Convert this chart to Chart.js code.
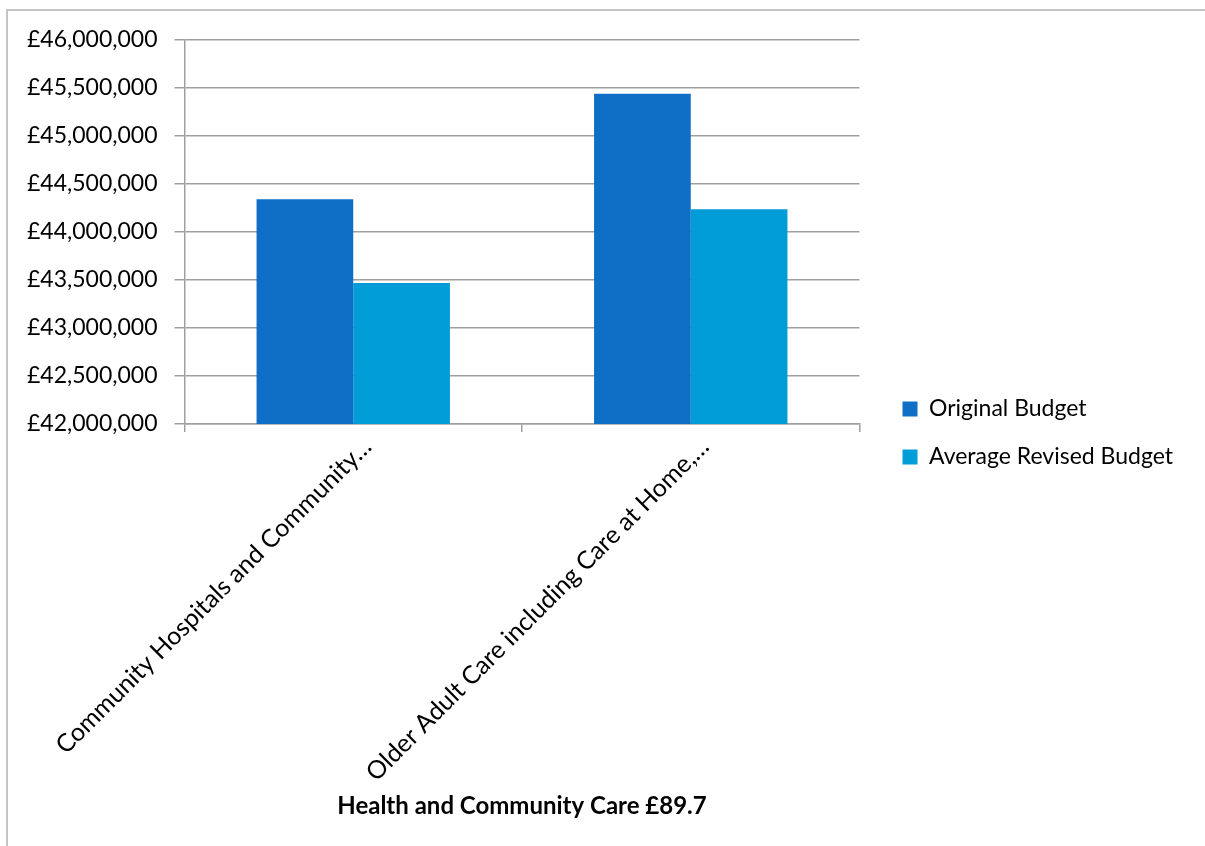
<!DOCTYPE html>
<html>
<head>
<meta charset="utf-8">
<title>Health and Community Care</title>
<script src="https://cdn.jsdelivr.net/npm/chart.js@4/dist/chart.umd.min.js"></script>
<style>
  html, body { margin: 0; padding: 0; background: #fff; overflow: hidden; }
  #wrap { position: relative; width: 1205px; height: 846px; }
  #frame {
    position: absolute; left: 6px; top: 9px; width: 1300px; height: 900px;
    border: 2px solid #c4c4c4; box-sizing: border-box;
  }
  #budget { position: absolute; left: 0; top: 0; }
</style>
</head>
<body>
<div id="wrap">
  <div id="frame"></div>
  <canvas id="budget" width="1205" height="846"></canvas>
</div>
<script>
const categories = [
  "Community Hospitals and Community…",
  "Older Adult Care including Care at Home,…"
];
const originalBudget = [44341000, 45440000];
const revisedBudget = [43470000, 44237000];
const yMin = 42000000;
const yMax = 46000000;
const yStep = 500000;

const font = "Lato";
const gridColour = "#a0a0a0";

function drawChart() {
  return new Chart(document.getElementById("budget"), {
    type: "bar",
    data: {
      labels: categories,
      datasets: [
        {
          label: "Original Budget",
          data: originalBudget,
          backgroundColor: "#0F6FC6",
          categoryPercentage: 0.573,
          barPercentage: 1.0
        },
        {
          label: "Average Revised Budget",
          data: revisedBudget,
          backgroundColor: "#009DD9",
          categoryPercentage: 0.573,
          barPercentage: 1.0
        }
      ]
    },
    options: {
      responsive: false,
      animation: false,
      layout: { padding: { left: 10, top: 40, right: 22, bottom: 38 } },
      plugins: {
        tooltip: { enabled: false },
        legend: {
          position: "right",
          maxWidth: 420,
          // blank title just pushes the two entries a little lower
          title: {
            display: true,
            text: "",
            font: { size: 10, lineHeight: 1 },
            padding: { top: 8, bottom: 0 }
          },
          labels: {
            color: "#000",
            font: { family: font, size: 23 },
            boxWidth: 15,
            boxHeight: 15,
            padding: 25
          }
        }
      },
      scales: {
        x: {
          grid: {
            offset: true,
            drawOnChartArea: false,
            drawTicks: true,
            tickLength: 8,
            color: gridColour,
            lineWidth: 1.5
          },
          border: { color: gridColour, width: 1.5 },
          ticks: {
            color: "#000",
            font: { family: font, size: 25 },
            minRotation: 45,
            maxRotation: 45,
            autoSkip: false,
            padding: 0,
            labelOffset: 14
          },
          title: {
            display: true,
            text: "Health and Community Care £89.7",
            color: "#000",
            font: { family: font, size: 24, weight: "bold" },
            padding: { top: 12, bottom: -13 }
          }
        },
        y: {
          min: yMin,
          max: yMax,
          grid: {
            color: gridColour,
            lineWidth: 1.5,
            tickLength: 10
          },
          border: { color: gridColour, width: 1.5 },
          ticks: {
            stepSize: yStep,
            color: "#000",
            font: { family: font, size: 23 },
            padding: 17,
            callback: v => "£" + v.toLocaleString("en-GB")
          }
        },
        // empty right-hand axis, only there to keep a gap before the legend
        gap: {
          position: "right",
          display: true,
          grid: { display: false },
          border: { display: false },
          ticks: { display: false },
          afterFit: s => { s.width = 18; }
        }
      }
    }
  });
}

// make sure Lato is ready so label widths are measured with the right font
Promise.all([
  document.fonts.load("23px Lato"),
  document.fonts.load("bold 24px Lato")
]).then(drawChart, drawChart);
</script>
</body>
</html>
